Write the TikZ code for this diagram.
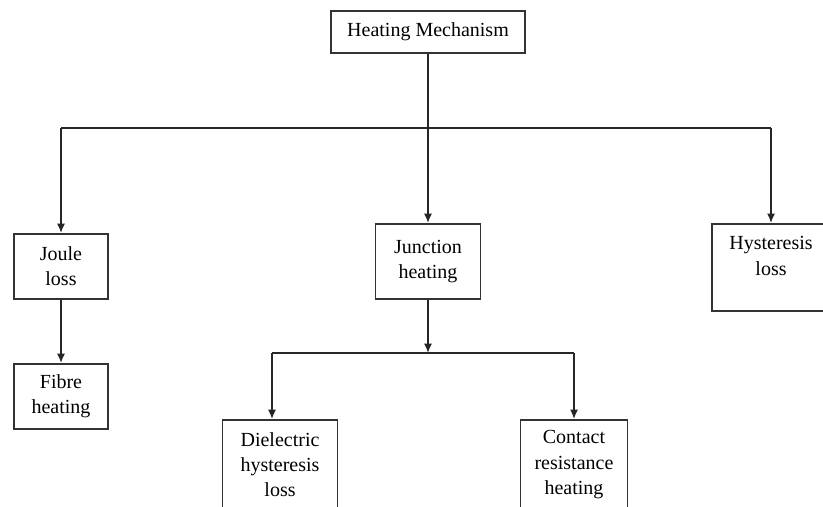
\documentclass[tikz,border=0pt]{standalone}
\usepackage{fontspec}
\setmainfont{Liberation Serif}
\usetikzlibrary{arrows.meta}
\begin{document}
\begin{tikzpicture}[>={Latex[length=7pt,width=6pt]}, x=0.75pt, y=-0.75pt, line width=1.2pt,
  box/.style={draw=black!80, anchor=north, align=center, inner sep=2pt, font=\fontsize{15}{19}\selectfont},
  link/.style={draw=black!85}]
\useasboundingbox (0,0) rectangle (823,506);
\clip (0,0) rectangle (823,506);
% boxes
\node[box, minimum width=145.5pt, minimum height=31.5pt] (heat) at (428,10) {Heating Mechanism};
\node[box, minimum width=70.5pt, minimum height=48.75pt] (joule) at (61,233) {Joule\\loss};
\node[box, minimum width=70.5pt, minimum height=48.75pt] (fibre) at (61,363) {Fibre\\heating};
\node[box, minimum width=78.75pt, minimum height=56.25pt] (jun) at (428,223) {Junction\\heating};
\node[box, minimum width=88.5pt, minimum height=65.25pt] (hys) at (771,223) {Hysteresis\\loss\rule[-17pt]{0pt}{17pt}};
\node[box, minimum width=86.25pt, minimum height=67.5pt] (diel) at (280,419) {Dielectric\\hysteresis\\loss};
\node[box, minimum width=80.25pt, minimum height=67.5pt] (cont) at (574,419) {Contact\\resistance\\heating};
% connectors
\coordinate (tl) at (61,128); \coordinate (tm) at (428,128); \coordinate (tr) at (771,128);
\coordinate (bl) at (272,353); \coordinate (bm) at (428,353); \coordinate (br) at (574,353);
\draw[link] (heat.south)--(tm);
\draw[link] (tl)--(tr);
\draw[link,->] (tl)--(joule.north);
\draw[link,->] (tm)--(jun.north);
\draw[link,->] (tr)--(hys.north);
\draw[link,->] (joule.south)--(fibre.north);
\draw[link,->] (jun.south)--(bm);
\draw[link] (bl)--(br);
\draw[link,->] (bl)--(bl |- diel.north);
\draw[link,->] (br)--(cont.north);
\end{tikzpicture}
\end{document}
